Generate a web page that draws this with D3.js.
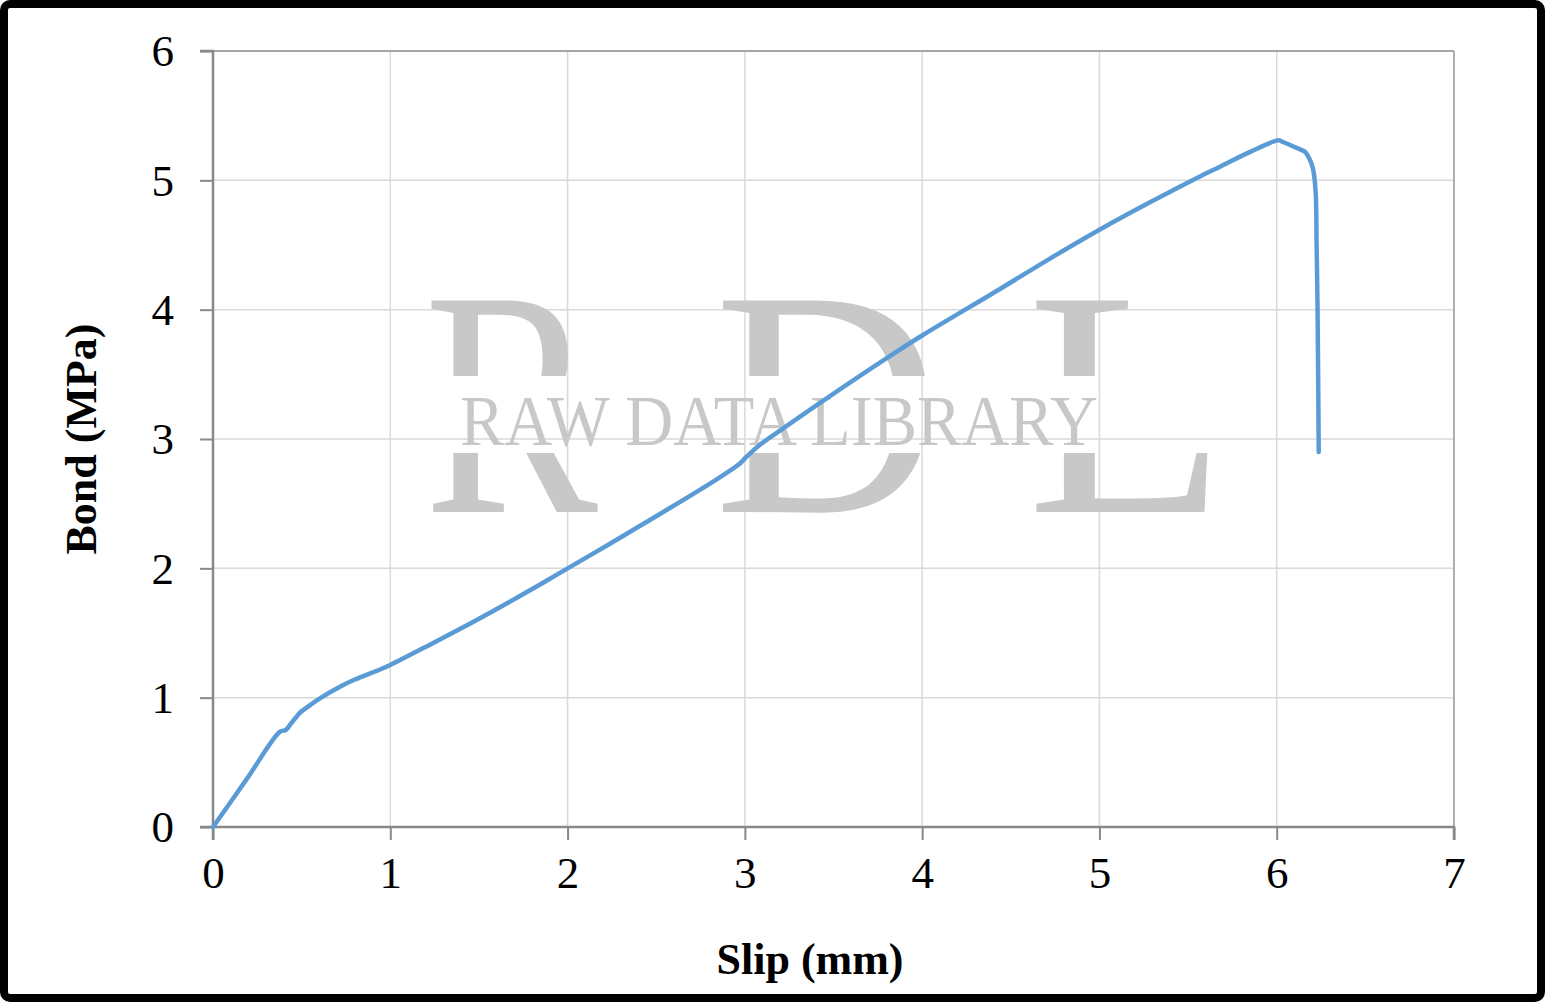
<!DOCTYPE html>
<html>
<head>
<meta charset="utf-8">
<script src="https://cdn.jsdelivr.net/npm/d3@7"></script>
<style>
  html, body { margin: 0; padding: 0; background: #fff; }
  svg { display: block; }
</style>
</head>
<body>
<script>
// ---- data ----
const slip = [0, 0.19, 0.378, 0.41, 0.44, 0.49, 0.509, 0.603, 0.716, 0.8, 0.942, 1.0, 1.224, 1.506, 1.788, 1.957, 2.239, 2.521, 2.803, 2.963, 3.004, 3.085, 3.198, 3.424, 3.822, 4.0, 4.439, 4.721, 5.003, 5.285, 5.567, 5.68, 5.85, 6.009, 6.03, 6.13, 6.16, 6.19, 6.206, 6.22, 6.225, 6.23, 6.237];
const bond = [0, 0.37, 0.737, 0.75, 0.80, 0.883, 0.904, 0.995, 1.085, 1.14, 1.218, 1.253, 1.41, 1.614, 1.83, 1.965, 2.19, 2.42, 2.655, 2.80, 2.855, 2.955, 3.065, 3.280, 3.645, 3.800, 4.160, 4.395, 4.62, 4.83, 5.03, 5.105, 5.22, 5.31, 5.30, 5.24, 5.22, 5.15, 5.08, 4.90, 4.50, 4.05, 2.90];
const xTicks = [0, 1, 2, 3, 4, 5, 6, 7];
const yTicks = [0, 1, 2, 3, 4, 5, 6];
const xTitle = "Slip (mm)";
const yTitle = "Bond (MPa)";
const watermarkBig = ["R", "D", "L"];
const watermarkSmall = "RAW DATA LIBRARY";

const W = 1547, H = 1005;
const svg = d3.select("body").append("svg").attr("width", W).attr("height", H);

const x = d3.scaleLinear().domain([0, 7]).range([213, 1454]);
const y = d3.scaleLinear().domain([0, 6]).range([827, 51]);

// grid
const grid = svg.append("g");
grid.selectAll(".vg").data(xTicks.filter(d => d > 0 && d < 7)).enter().append("line")
  .attr("x1", d => x(d)).attr("x2", d => x(d)).attr("y1", y(0)).attr("y2", y(6))
  .attr("stroke", "#d9d9d9").attr("stroke-width", 1.5);
grid.selectAll(".hg").data(yTicks.filter(d => d > 0 && d < 6)).enter().append("line")
  .attr("x1", x(0)).attr("x2", x(7)).attr("y1", d => y(d)).attr("y2", d => y(d))
  .attr("stroke", "#d9d9d9").attr("stroke-width", 1.5);
// top/right frame
svg.append("line").attr("x1", x(0)).attr("x2", x(7)).attr("y1", y(6)).attr("y2", y(6))
  .attr("stroke", "#a6a6a6").attr("stroke-width", 2);
svg.append("line").attr("x1", x(7)).attr("x2", x(7)).attr("y1", y(0)).attr("y2", y(6))
  .attr("stroke", "#b0b0b0").attr("stroke-width", 2);

// watermark
const defs = svg.append("defs");
const cp = defs.append("clipPath").attr("id", "band");
cp.append("rect").attr("x", 0).attr("y", 0).attr("width", W).attr("height", 376);
cp.append("rect").attr("x", 0).attr("y", 453).attr("width", W).attr("height", H - 453);
const wm = svg.append("g").attr("fill", "#c8c8c8").attr("font-family", "'Liberation Serif', 'Times New Roman', serif");
const bigPos = [[424, 174], [714, 226], [1027, 200]];
wm.append("g").attr("clip-path", "url(#band)")
  .selectAll("text").data(watermarkBig).enter().append("text")
  .attr("x", (d, i) => bigPos[i][0]).attr("y", 512)
  .attr("font-size", 323)
  .attr("textLength", (d, i) => bigPos[i][1]).attr("lengthAdjust", "spacingAndGlyphs")
  .text(d => d);
wm.append("text").attr("x", 460).attr("y", 445).attr("font-size", 71)
  .attr("textLength", 638).attr("lengthAdjust", "spacingAndGlyphs")
  .text(watermarkSmall);

// axes
const fontFam = "'Liberation Serif', 'Times New Roman', serif";
const xAxis = svg.append("g").attr("transform", `translate(0,${y(0)})`)
  .call(d3.axisBottom(x).tickValues(xTicks).tickSize(13).tickPadding(16).tickFormat(d3.format("d")));
const yAxis = svg.append("g").attr("transform", `translate(${x(0)},0)`)
  .call(d3.axisLeft(y).tickValues(yTicks).tickSize(13).tickPadding(26).tickFormat(d3.format("d")));
[xAxis, yAxis].forEach(a => {
  a.select(".domain").attr("stroke", "#898989").attr("stroke-width", 2.5);
  a.selectAll(".tick line").attr("stroke", "#898989").attr("stroke-width", 2);
  a.selectAll(".tick text").attr("fill", "#000").attr("font-family", fontFam).attr("font-size", 45);
});
xAxis.select(".domain").attr("d", `M${x(0)},13V0H${x(7)}V13`);
yAxis.select(".domain").attr("d", `M-13,${y(6)}H0V${y(0)}H-13`);
yAxis.selectAll(".tick text").attr("dy", "0.33em");

// titles
svg.append("text").attr("x", 810).attr("y", 974).attr("text-anchor", "middle")
  .attr("font-family", fontFam).attr("font-weight", "bold").attr("font-size", 44).text(xTitle);
svg.append("text").attr("transform", "translate(96,439) rotate(-90)").attr("text-anchor", "middle")
  .attr("font-family", fontFam).attr("font-weight", "bold").attr("font-size", 44).text(yTitle);

// series
const pts = slip.map((s, i) => [s, bond[i]]);
svg.append("path").datum(pts)
  .attr("fill", "none").attr("stroke", "#5b9bd5").attr("stroke-width", 4.5)
  .attr("stroke-linejoin", "round").attr("stroke-linecap", "round")
  .attr("d", d3.line().x(d => x(d[0])).y(d => y(d[1])).curve(d3.curveCatmullRom.alpha(0.5)));

// outer frame
svg.append("rect").attr("x", 4).attr("y", 4).attr("width", 1537).attr("height", 994)
  .attr("rx", 6).attr("fill", "none").attr("stroke", "#000").attr("stroke-width", 8);
</script>
</body>
</html>
